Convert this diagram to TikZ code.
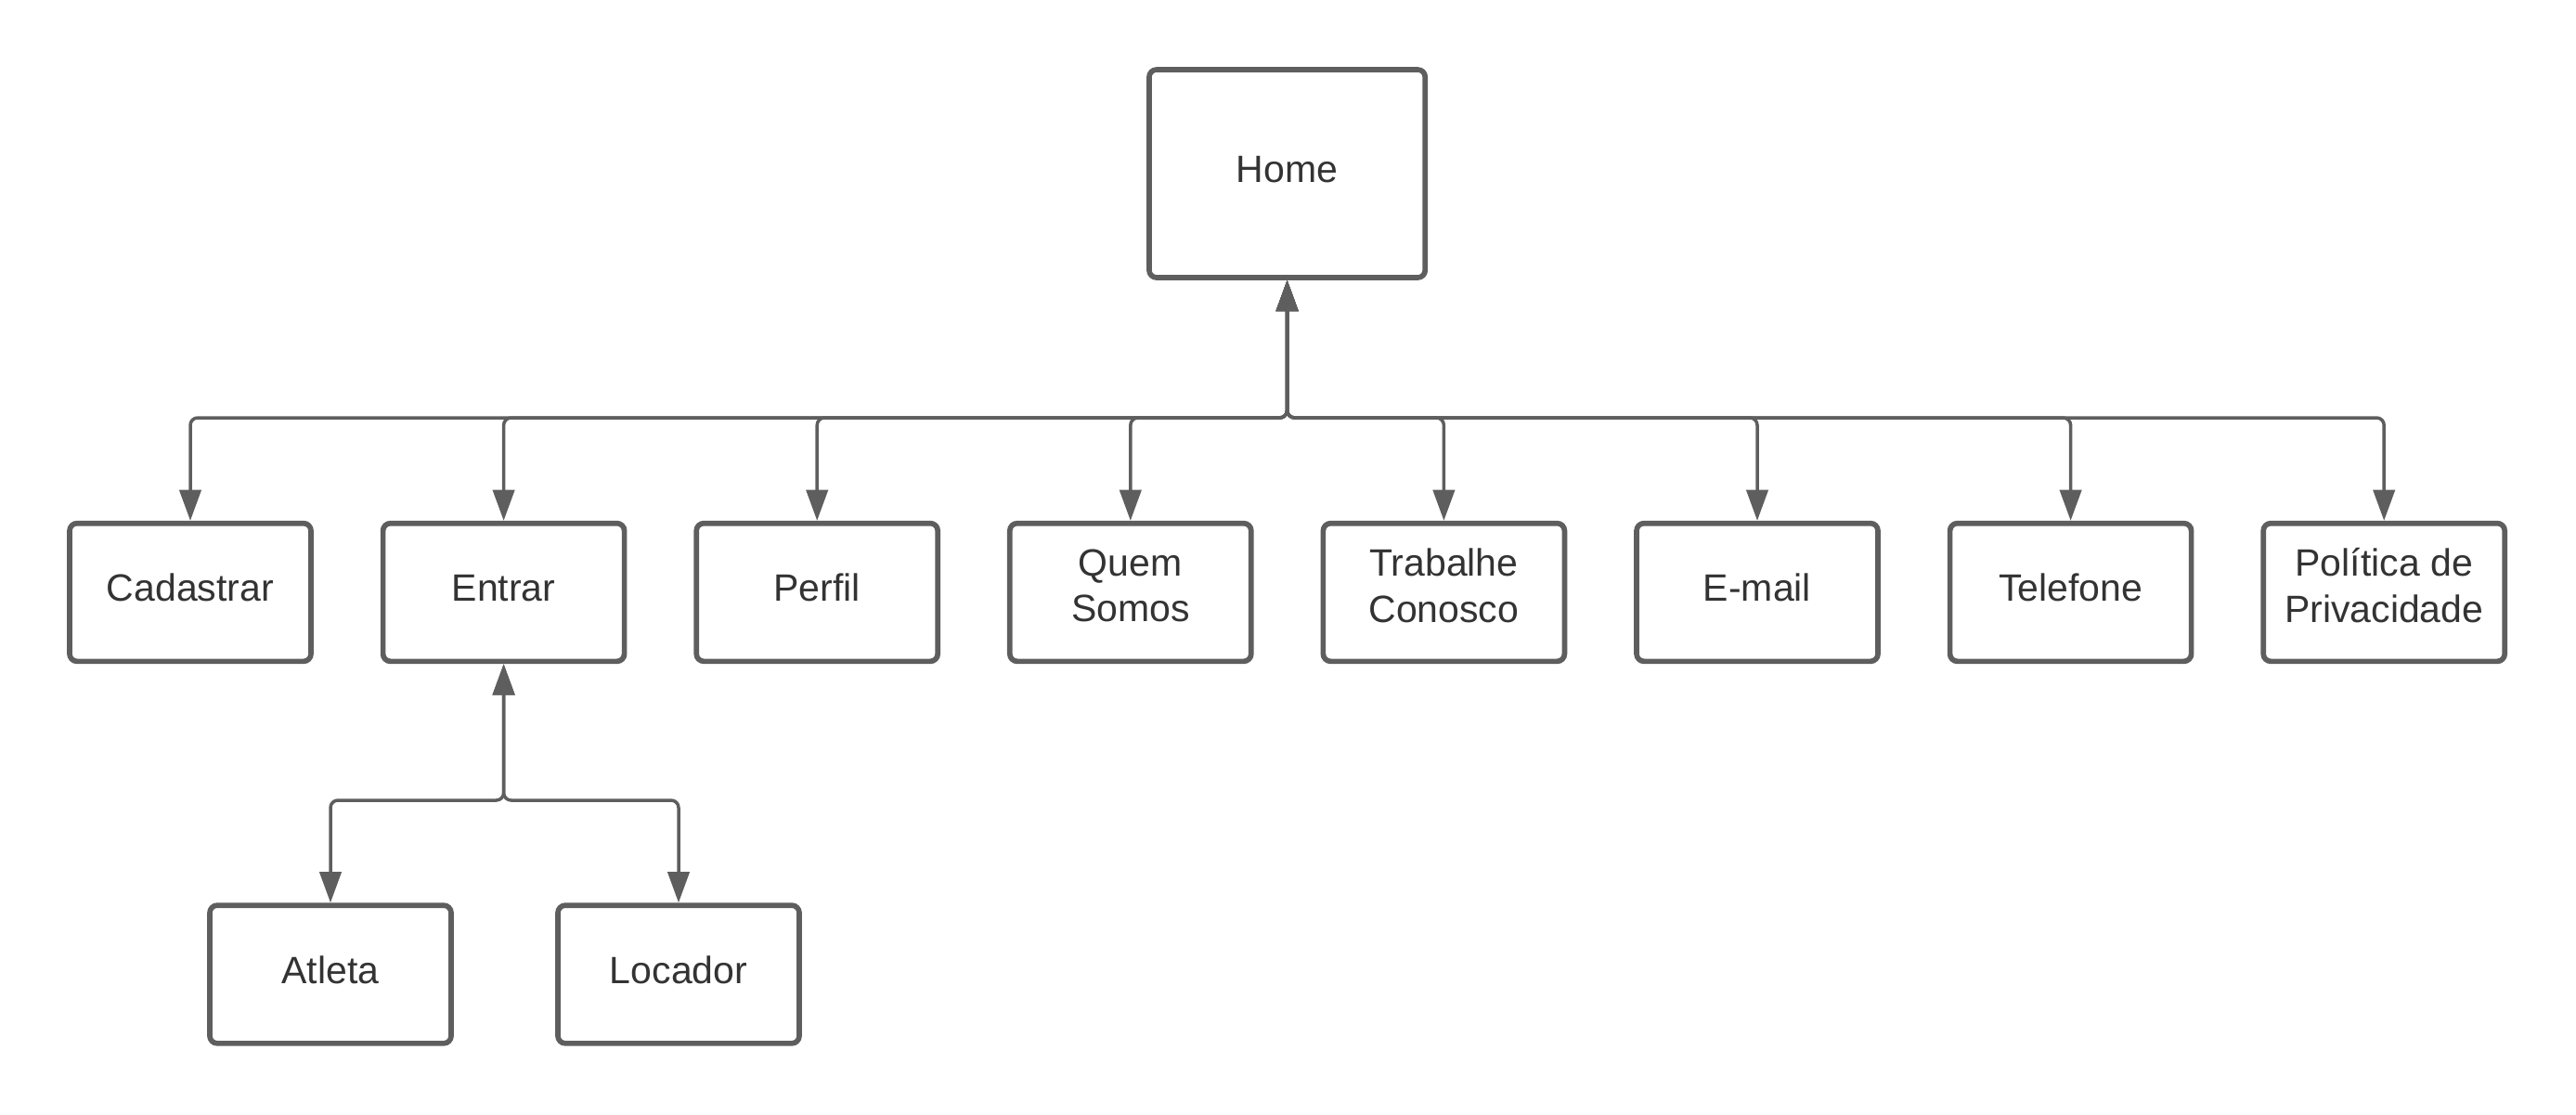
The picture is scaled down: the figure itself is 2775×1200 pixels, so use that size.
\documentclass[tikz,border=0pt]{standalone}
\usepackage{fontspec}
\setmainfont{Liberation Sans}
\usetikzlibrary{arrows.meta}
\definecolor{edgegray}{HTML}{5E5E5E}
\definecolor{textgray}{HTML}{333333}
\tikzset{
  pagebox/.style={draw=edgegray, line width=1.7pt, rounded corners=2.4pt, fill=white,
    minimum width=78pt, minimum height=44.6pt, inner sep=0pt, align=center,
    text=textgray, font=\fontsize{12.3}{14.9}\selectfont},
  homebox/.style={pagebox, minimum width=89.2pt, minimum height=67.2pt},
  link/.style={draw=edgegray, line width=1.05pt, rounded corners=2.4pt,
    {Triangle[length=10pt,width=7pt]}-{Triangle[length=10pt,width=7pt]}}
}
\begin{document}
\begin{tikzpicture}[x=0.3pt,y=-0.3pt]
\useasboundingbox (0,0) rectangle (2775,1200);
\node[homebox] (home) at (1386.6,187) {Home\strut};
\node[pagebox] (cad) at (205,638) {Cadastrar\strut};
\node[pagebox] (ent) at (542.6,638) {Entrar\strut};
\node[pagebox] (per) at (880.2,638) {Perfil\strut};
\node[pagebox] (quem) at (1217.8,638) {Quem\\Somos\strut};
\node[pagebox] (trab) at (1555.4,638) {Trabalhe\\Conosco\strut};
\node[pagebox] (mail) at (1893,638) {E-mail\strut};
\node[pagebox] (tel) at (2230.6,638) {Telefone\strut};
\node[pagebox] (pol) at (2568.2,638) {Política de\\Privacidade\strut};
\node[pagebox] (atl) at (356,1049.5) {Atleta\strut};
\node[pagebox] (loc) at (731,1049.5) {Locador\strut};
\coordinate (bus) at (0,450);
\coordinate (bus2) at (0,862);
\foreach \c in {cad,ent,per,quem,trab,mail,tel,pol}
  \draw[link] (home.south) -- (home.south |- bus) -- (\c.north |- bus) -- (\c.north);
\foreach \c in {atl,loc}
  \draw[link] (ent.south) -- (ent.south |- bus2) -- (\c.north |- bus2) -- (\c.north);
\end{tikzpicture}
\end{document}
